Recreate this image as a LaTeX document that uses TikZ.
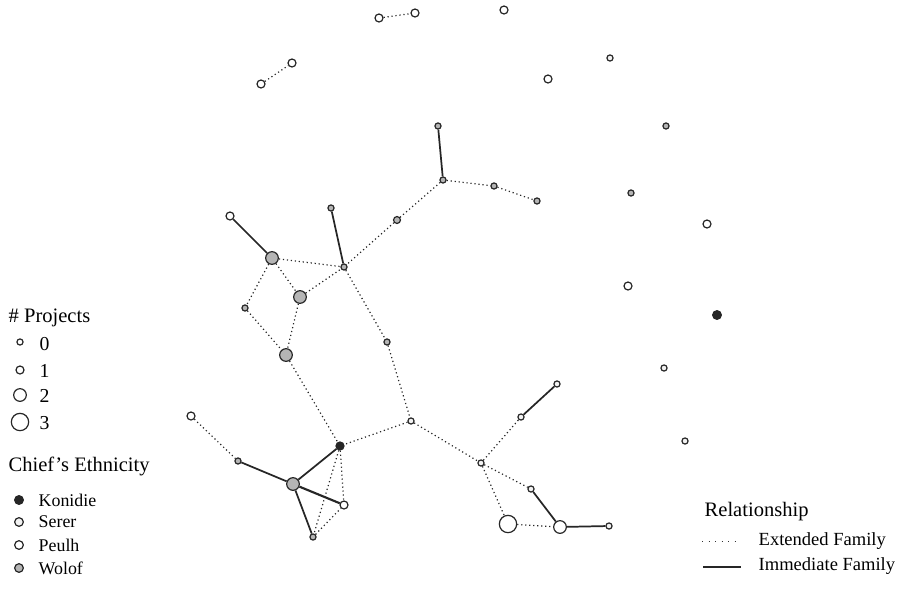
\documentclass[tikz,border=0pt]{standalone}
\usepackage{fontspec}
\setmainfont{Liberation Serif}
\usepackage{tikz}
\usetikzlibrary{positioning}

\begin{document}
\begin{tikzpicture}[
    x=0.75pt, y=-0.75pt,
    v/.style={circle, draw=black!85, line width=0.9pt, inner sep=0pt},
    sz0/.style={v, minimum size=4.6pt},
    sz1/.style={v, minimum size=6pt},
    sz2/.style={v, minimum size=9.5pt},
    sz3/.style={v, minimum size=13pt},
    kon/.style={fill=black!85},
    ser/.style={fill=gray!10},
    peu/.style={fill=white},
    wol/.style={fill=gray!58},
    ext/.style={line width=0.9pt, dash pattern=on 0.9pt off 2.1pt, black!85},
    imm/.style={line width=1.3pt, black!85},
    head/.style={anchor=west, font=\fontsize{15.4}{18}\selectfont},
    lbl/.style={anchor=west, font=\fontsize{13.4}{16}\selectfont}
  ]
  \useasboundingbox (0,0) rectangle (900,593);

  % nodes without links
  \node[sz1, peu] (a1) at (379,18) {};
  \node[sz1, peu] (a2) at (415,13) {};
  \node[sz1, peu] (b1) at (261,84) {};
  \node[sz1, peu] (b2) at (292,63) {};
  \node[sz1, peu] (c) at (504,10) {};
  \node[sz1, peu] (d) at (548,79) {};
  \node[sz0, ser] (e) at (610,58) {};
  \node[sz0, wol] (f) at (666,126) {};
  \node[sz0, wol] (g) at (631,193) {};
  \node[sz1, peu] (h) at (707,224) {};
  \node[sz1, peu] (i) at (628,286) {};
  \node[sz1, kon, minimum size=6.5pt] (j) at (717,315) {};
  \node[sz0, ser] (k) at (664,368) {};
  \node[sz0, ser] (l) at (685,441) {};

  % main component
  \node[sz0, wol] (n1) at (438,126) {};
  \node[sz0, wol] (n2) at (443,180) {};
  \node[sz0, wol] (n3) at (494,186) {};
  \node[sz0, wol] (n4) at (537,201) {};
  \node[sz1, wol, minimum size=5.2pt] (n5) at (397,220) {};
  \node[sz0, wol] (n6) at (331,208) {};
  \node[sz0, wol] (n7) at (344,267) {};
  \node[sz1, peu] (n8) at (230,216) {};
  \node[sz2, wol] (n9) at (272,258) {};
  \node[sz2, wol] (n10) at (300,297) {};
  \node[sz0, wol] (n11) at (245,308) {};
  \node[sz2, wol] (n12) at (286,355) {};
  \node[sz0, wol] (n13) at (387,342) {};
  \node[sz0, ser] (n14) at (411,421) {};
  \node[sz1, kon] (n15) at (340,446) {};
  \node[sz1, peu] (n16) at (191,416) {};
  \node[sz0, wol] (n17) at (238,461) {};
  \node[sz2, wol] (n18) at (293,484) {};
  \node[sz1, peu] (n19) at (344,505) {};
  \node[sz0, wol] (n20) at (313,537) {};
  \node[sz0, ser] (n21) at (481,463) {};
  \node[sz0, ser] (n22) at (521,417) {};
  \node[sz0, ser] (n23) at (557,384) {};
  \node[sz0, ser] (n24) at (531,489) {};
  \node[sz3, peu] (n25) at (508,524) {};
  \node[sz2, peu] (n26) at (560,527) {};
  \node[sz0, ser] (n27) at (609,526) {};

  % extended family
  \draw[ext] (a1) -- (a2);
  \draw[ext] (b1) -- (b2);
  \draw[ext] (n2) -- (n3);
  \draw[ext] (n3) -- (n4);
  \draw[ext] (n2) -- (n5);
  \draw[ext] (n5) -- (n7);
  \draw[ext] (n9) -- (n7);
  \draw[ext] (n10) -- (n7);
  \draw[ext] (n9) -- (n10);
  \draw[ext] (n9) -- (n11);
  \draw[ext] (n11) -- (n12);
  \draw[ext] (n10) -- (n12);
  \draw[ext] (n12) -- (n15);
  \draw[ext] (n7) -- (n13);
  \draw[ext] (n13) -- (n14);
  \draw[ext] (n14) -- (n15);
  \draw[ext] (n14) -- (n21);
  \draw[ext] (n16) -- (n17);
  \draw[ext] (n15) -- (n19);
  \draw[ext] (n15) -- (n20);
  \draw[ext] (n20) -- (n19);
  \draw[ext] (n21) -- (n22);
  \draw[ext] (n21) -- (n24);
  \draw[ext] (n21) -- (n25);
  \draw[ext] (n25) -- (n26);

  % immediate family
  \draw[imm] (n1) -- (n2);
  \draw[imm] (n6) -- (n7);
  \draw[imm] (n8) -- (n9);
  \draw[imm] (n17) -- (n18);
  \draw[imm] (n18) -- (n15);
  \draw[imm, line width=1.6pt] (n18) -- (n19);
  \draw[imm] (n18) -- (n20);
  \draw[imm] (n22) -- (n23);
  \draw[imm] (n24) -- (n26);
  \draw[imm] (n26) -- (n27);

  % legend: projects
  \node[head] (hproj) at (4,318) {\# Projects};
  \node[sz0, peu] (p0) at (20,342) {};
  \node[sz1, peu] (p1) at (20,370) {};
  \node[sz2, peu] (p2) at (20,395) {};
  \node[sz3, peu] (p3) at (20,422) {};
  \node[lbl, font=\fontsize{14.8}{17}\selectfont] (l0) at (35,344) {0};
  \node[lbl, font=\fontsize{14.8}{17}\selectfont] (l1) at (35,371) {1};
  \node[lbl, font=\fontsize{14.8}{17}\selectfont] (l2) at (35,396) {2};
  \node[lbl, font=\fontsize{14.8}{17}\selectfont] (l3) at (35,423) {3};

  % legend: ethnicity
  \node[head] (heth) at (4,466) {Chief's Ethnicity};
  \node[sz1, kon, minimum size=6.5pt] (ek) at (19,500) {};
  \node[sz1, ser, minimum size=6.5pt] (es) at (19,522) {};
  \node[sz1, peu, minimum size=6.5pt] (ep) at (19,545) {};
  \node[sz1, wol, minimum size=6.5pt] (ew) at (19,568) {};
  \node[lbl] (lk) at (34,500) {Konidie};
  \node[lbl] (ls) at (34,522) {Serer};
  \node[lbl] (lp) at (34,545) {Peulh};
  \node[lbl] (lw) at (34,568) {Wolof};

  % legend: relationship
  \node[head] (hrel) at (700,512) {Relationship};
  \coordinate (x1) at (702,541);
  \coordinate (x2) at (741,541);
  \coordinate (m1) at (703,567);
  \coordinate (m2) at (741,567);
  \draw[line width=0.7pt, dash pattern=on 0.7pt off 4.2pt, black!80] (x1) -- (x2);
  \draw[imm, line width=1.1pt] (m1) -- (m2);
  \node[lbl, font=\fontsize{13.9}{16}\selectfont] (lx) at (754,541) {Extended Family};
  \node[lbl, font=\fontsize{13.9}{16}\selectfont] (lm) at (754,566) {Immediate Family};
\end{tikzpicture}
\end{document}
